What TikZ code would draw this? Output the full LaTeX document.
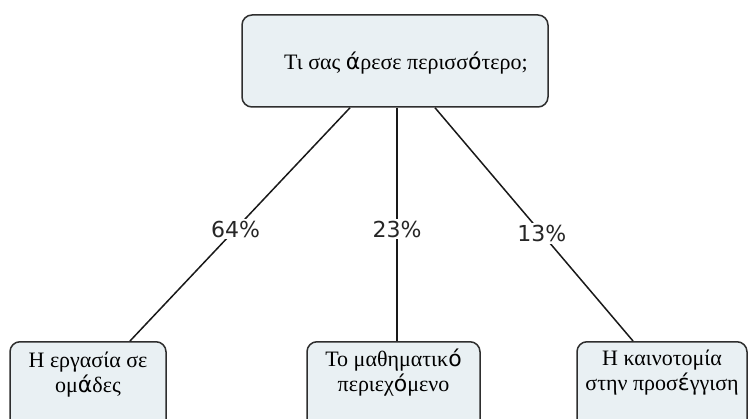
\documentclass[tikz,border=0pt]{standalone}
\usepackage{fontspec}
\setmainfont{Liberation Serif}
\newfontfamily\dv{DejaVu Sans}
\usetikzlibrary{calc}
\definecolor{boxfill}{HTML}{E9F0F3}
\definecolor{boxline}{HTML}{2E2E2E}
\newcommand{\ac}[1]{{\dv #1}}
\tikzset{
  box/.style={draw=boxline, fill=boxfill, line width=1.5pt, rounded corners=10pt, inner sep=0pt},
  boxtext/.style={align=center, font=\fontsize{22}{25}\selectfont, inner sep=0pt},
  conn/.style={draw=black!90, line width=1.5pt},
  pct/.style={fill=white, inner xsep=1pt, inner ysep=2pt, text=black!85, font=\dv\fontsize{22}{24}\selectfont}
}
\begin{document}
\begin{tikzpicture}[x=1pt,y=-1pt]
\useasboundingbox (0,0) rectangle (749,419);
\clip (0,0) rectangle (749,419);
% boxes
\node[box, minimum width=306pt, minimum height=92pt] (top) at (395,61) {};
\node[boxtext] (toptext) at (406,63) {Τι σας \ac{ά}ρεσε περισσ\ac{ό}τερο;};
\node[box, minimum width=156pt, minimum height=100pt, anchor=north] (lb) at (88,341) {};
\node[box, minimum width=173pt, minimum height=100pt, anchor=north] (mb) at (393.5,341) {};
\node[box, minimum width=170pt, minimum height=100pt, anchor=north] (rb) at (662,341) {};
\node[boxtext] (lbt) at ([yshift=-34pt]lb.north) {Η εργασία σε\\ ομ\ac{ά}δες};
\node[boxtext] (mbt) at ([yshift=-32pt]mb.north) {Το μαθηματικ\ac{ό}\\ περιεχ\ac{ό}μενο};
\node[boxtext] (rbt) at ([yshift=-32pt]rb.north) {Η καινοτομία\\ στην προσ\ac{έ}γγιση};
% connectors
\draw[conn] ([xshift=-45pt]top.south) -- node[pos=0.52, pct] (p1) {64\%} ([xshift=42pt]lb.north);
\draw[conn] ([xshift=2pt]top.south) -- node[pos=0.52, pct] (p2) {23\%} ([xshift=3.5pt]mb.north);
\draw[conn] ([xshift=40pt]top.south) -- node[pos=0.54, pct] (p3) {13\%} ([xshift=-29pt]rb.north);
\end{tikzpicture}
\end{document}
